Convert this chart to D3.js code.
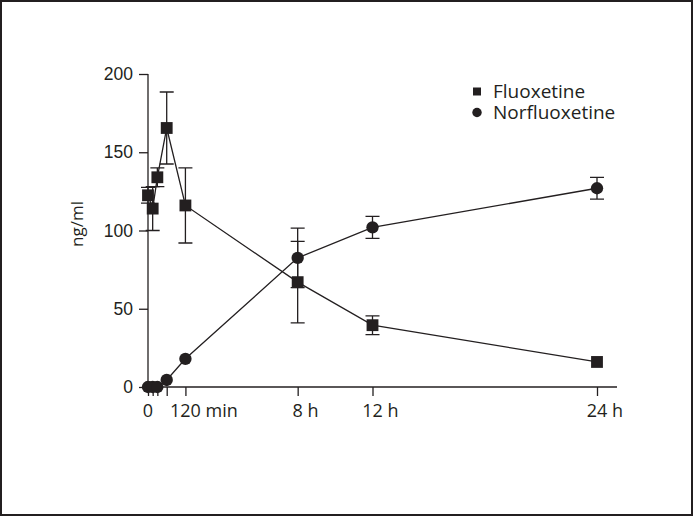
<!DOCTYPE html>
<html>
<head>
<meta charset="utf-8">
<script src="https://cdn.jsdelivr.net/npm/d3@7/dist/d3.min.js"></script>
<style>
  body { margin: 0; background: #fff; }
  svg { display: block; font-family: "Open Sans", sans-serif; }
  .axis path, .axis line { stroke: #231f20; stroke-width: 1.3; }
  .axis text { fill: #231f20; font-size: 17.5px; }
</style>
</head>
<body>
<svg width="693" height="516"></svg>
<script>
// sampling times in hours
var timeHours = [0, 0.25, 0.5, 1, 2, 8, 12, 24];
var fluoxetine = [122.5, 114, 134, 165.5, 116, 67, 39.5, 16];
var fluoxetineErr = [5, 14, 6, 23, 24, 26, 6, 0];
var norfluoxetine = [0, 0, 0, 4.5, 18, 82.5, 102, 127];
var norfluoxetineErr = [0, 0, 0, 0, 0, 19, 7, 7];

var yTicks = [0, 50, 100, 150, 200];
var xTicks = [0, 0.25, 0.5, 1, 2, 8, 12, 24];
var labelHours = [0, 2, 8, 12, 24];
var labelNums = ["0", "120", "8", "12", "24"];
var labelUnits = ["", " min", " h", " h", " h"];
var seriesNames = ["Fluoxetine", "Norfluoxetine"];

var ink = "#231f20";
var svg = d3.select("svg");

// frame round the figure
svg.append("rect").attr("x", 1).attr("y", 1).attr("width", 691).attr("height", 514)
  .attr("fill", "none").attr("stroke", ink).attr("stroke-width", 2);

var x = d3.scaleLinear().domain([0, 24]).range([148, 597]);
var y = d3.scaleLinear().domain([0, 200]).range([387, 74]);

// y axis
var yAxis = svg.append("g").attr("class", "axis")
  .attr("transform", "translate(148,0)")
  .call(d3.axisLeft(y).tickValues(yTicks).tickSize(9).tickPadding(6).tickSizeOuter(0));
yAxis.select(".domain").remove();
yAxis.append("line").attr("x1", 0).attr("x2", 0).attr("y1", y(200)).attr("y2", y(0))
  .attr("stroke", ink).attr("stroke-width", 1.3);

// x axis
var xAxis = svg.append("g").attr("class", "axis")
  .attr("transform", "translate(0," + y(0) + ")")
  .call(d3.axisBottom(x).tickValues(xTicks).tickSize(9).tickFormat(""));
xAxis.select(".domain").remove();
xAxis.append("line").attr("x1", x(0)).attr("x2", 617).attr("y1", 0).attr("y2", 0)
  .attr("stroke", ink).attr("stroke-width", 1.3);

// x labels: number centred on the tick, unit trailing
labelHours.forEach(function(h, i) {
  var t = svg.append("text").attr("y", 417).attr("fill", ink).style("font-size", "18px");
  var num = t.append("tspan").text(labelNums[i]);
  var w = num.node().getComputedTextLength();
  t.attr("x", x(h) - w / 2);
  t.append("tspan").text(labelUnits[i]);
});

// y title
svg.append("text")
  .attr("transform", "translate(83,224) rotate(-90)")
  .attr("text-anchor", "middle").attr("fill", ink).style("font-size", "17px")
  .text("ng/ml");

function drawSeries(vals, errs, shape) {
  var g = svg.append("g");
  var pts = vals.map(function(v, i) { return { t: timeHours[i], v: v, e: errs[i] }; });
  var withErr = pts.filter(function(d) { return d.e > 0; });
  g.selectAll(".eb").data(withErr).enter().append("path")
    .attr("d", function(d) {
      var cx = x(d.t), hi = y(d.v + d.e), lo = y(d.v - d.e);
      return "M" + cx + "," + hi + "V" + lo +
        "M" + (cx - 7) + "," + hi + "H" + (cx + 7) +
        "M" + (cx - 7) + "," + lo + "H" + (cx + 7);
    })
    .attr("fill", "none").attr("stroke", ink).attr("stroke-width", 1.3);
  g.append("path").datum(pts)
    .attr("d", d3.line().x(function(d) { return x(d.t); }).y(function(d) { return y(d.v); }))
    .attr("fill", "none").attr("stroke", ink).attr("stroke-width", 1.3);
  var sym = d3.symbol().type(shape === "square" ? d3.symbolSquare : d3.symbolCircle)
    .size(shape === "square" ? 140 : 120);
  g.selectAll(".pt").data(pts).enter().append("path")
    .attr("transform", function(d) { return "translate(" + x(d.t) + "," + y(d.v) + ")"; })
    .attr("d", sym).attr("fill", ink);
}
drawSeries(norfluoxetine, norfluoxetineErr, "circle");
drawSeries(fluoxetine, fluoxetineErr, "square");

// legend
var legend = svg.append("g");
legend.append("path").attr("transform", "translate(477,91.5)")
  .attr("d", d3.symbol().type(d3.symbolSquare).size(64)).attr("fill", ink);
legend.append("path").attr("transform", "translate(477,112.5)")
  .attr("d", d3.symbol().type(d3.symbolCircle).size(70)).attr("fill", ink);
legend.selectAll("text").data(seriesNames).enter().append("text")
  .attr("x", 493).attr("y", function(d, i) { return 98 + i * 21; })
  .attr("fill", ink).style("font-size", "19px").text(function(d) { return d; });
</script>
</body>
</html>
